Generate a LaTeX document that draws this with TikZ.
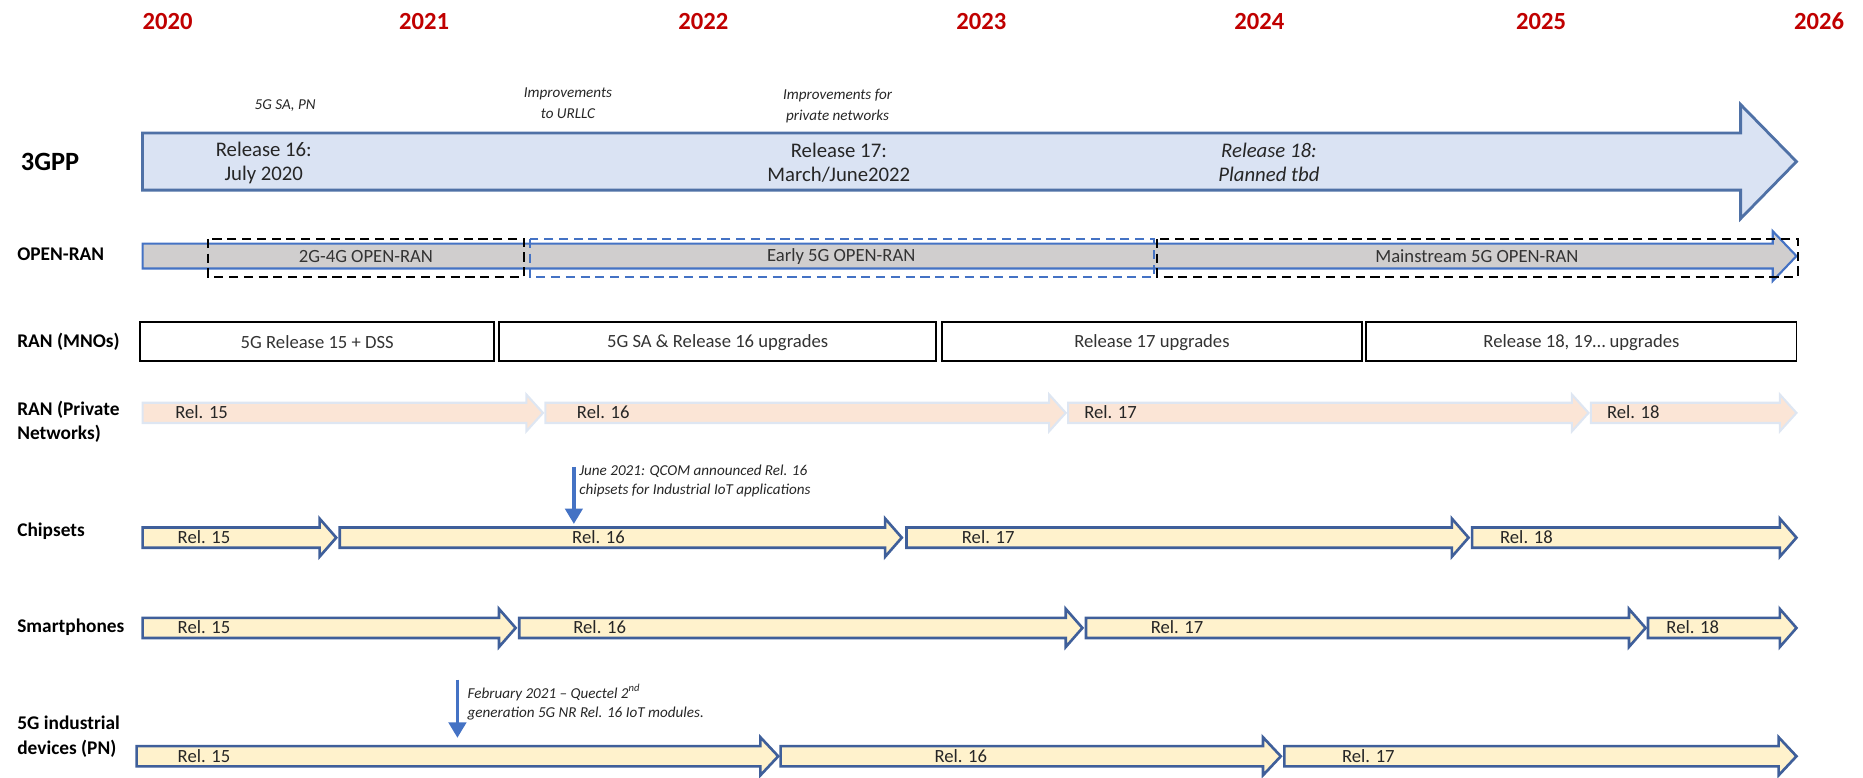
\documentclass[tikz,border=0pt]{standalone}
\usepackage{fontspec}
\setmainfont{Carlito}
\usetikzlibrary{arrows.meta,positioning}
\definecolor{yearred}{HTML}{C00000}
\definecolor{gppfill}{HTML}{DAE3F3}
\definecolor{gppline}{HTML}{4F71A6}
\definecolor{oranfill}{HTML}{D0CECE}
\definecolor{pnfill}{HTML}{FBE5D6}
\definecolor{pnline}{HTML}{DEE6F2}
\definecolor{relfill}{HTML}{FFF2CC}
\definecolor{relline}{HTML}{3F5F9A}
\definecolor{noteblue}{HTML}{4472C4}

% style, start x, tip x, centre y, half shaft, half head, head length
\newcommand{\timearrow}[7]{%
  \filldraw[#1] (#2,#4-#5) -- (#3-#7,#4-#5) -- (#3-#7,#4-#6) -- (#3,#4)
    -- (#3-#7,#4+#6) -- (#3-#7,#4+#5) -- (#2,#4+#5) -- cycle;}

\begin{document}
\begin{tikzpicture}[x=0.3377pt,y=-0.3377pt,
    year/.style={text=yearred,font=\fontsize{7}{8}\selectfont\bfseries},
    rowlabel/.style={anchor=west,align=left,inner sep=0pt,font=\fontsize{5.5}{7}\selectfont\bfseries},
    reltext/.style={align=center,inner sep=0pt,text=black!85,font=\fontsize{5.9}{6.8}\selectfont},
    note/.style={align=center,inner sep=0pt,text=black!85,font=\fontsize{4.3}{6}\selectfont\itshape},
    boxtext/.style={inner sep=0pt,text=black!80,font=\fontsize{5.3}{6}\selectfont},
    rellabel/.style={anchor=west,inner sep=0pt,text=black!85,font=\fontsize{5.3}{6}\selectfont},
    gpp arrow/.style={fill=gppfill,draw=gppline,line width=0.8pt},
    oran arrow/.style={fill=oranfill,draw=noteblue,line width=0.6pt},
    pn arrow/.style={fill=pnfill,draw=pnline,line width=0.6pt},
    rel arrow/.style={fill=relfill,draw=relline,line width=0.75pt},
    dashbox/.style={dash pattern=on 2.6pt off 1.6pt,line width=0.5pt},
    mnobox/.style={draw=black,line width=0.55pt},
    note arrow/.style={noteblue,line width=1.1pt,-{Triangle[width=4.9pt,length=4.4pt]}}]

  \useasboundingbox (0,0) rectangle (1568,654);

  \foreach \yr/\x in {2020/141,2021/357,2022/592,2023/826,2024/1060,2025/1297,2026/1531}
    \node[year] (y\yr) at (\x,18) {\yr};

  \node[rowlabel,font=\fontsize{7.5}{9}\selectfont\bfseries] (gpp) at (17,136) {3GPP};
  \node[rowlabel] (oran)    at (14,214) {OPEN-RAN};
  \node[rowlabel] (mno)     at (14,288) {RAN (MNOs)};
  \node[rowlabel] (pn)      at (14,355) {RAN (Private\\Networks)};
  \node[rowlabel] (chips)   at (14,447) {Chipsets};
  \node[rowlabel] (phones)  at (14,528) {Smartphones};
  \node[rowlabel] (devices) at (14,620) {5G industrial\\devices (PN)};

  \timearrow{gpp arrow}{120}{1512}{136}{24}{48}{47}
  \node[reltext] (rel16) at (222,137) {Release 16:\\July 2020};
  \node[reltext] (rel17) at (706,137) {Release 17:\\March/June2022};
  \node[reltext,font=\fontsize{5.9}{6.8}\selectfont\itshape] (rel18) at (1068,137) {Release 18:\\Planned tbd};
  \node[note] (sapn)  at (240,89) {5G SA, PN};
  \node[note] (urllc) at (478,87) {Improvements\\to URLLC};
  \node[note] (priv)  at (705,89) {Improvements for\\private networks};

  \timearrow{oran arrow}{120}{1512}{215.5}{10.5}{21}{20}
  \draw[dashbox] (175,201) rectangle (441,233);
  \draw[dashbox,noteblue] (446,201) rectangle (971,233);
  \draw[dashbox] (974,201) rectangle (1513,233);
  \node[boxtext] (oran1) at (308,216) {2G-4G OPEN-RAN};
  \node[boxtext] (oran2) at (708,216) {Early 5G OPEN-RAN};
  \node[boxtext] (oran3) at (1243,216) {Mainstream 5G OPEN-RAN};

  \foreach \a/\b/\t [count=\i] in {118/416/5G Release 15 + DSS,
      420/788/5G SA \& Release 16 upgrades, 793/1146/Release 17 upgrades,
      1150/1512/{Release 18, 19… upgrades}} {
    \draw[mnobox] (\a,271) rectangle (\b,304);
    \node[boxtext] (mno\i) at ({(\a+\b)/2},288) {\t};
  }

  \foreach \a/\b/\l/\t in {120/457/147/15, 459/897/485/16, 899/1337/912/17, 1339/1512/1352/18} {
    \timearrow{pn arrow}{\a}{\b}{347.5}{8.5}{15.5}{14}
    \node[rellabel] (pn\t) at (\l,347) {Rel. \t};
  }

  \foreach \a/\b/\l/\t in {120/283/149/15, 286/759/481/16, 763/1236/809/17, 1239/1512/1262/18} {
    \timearrow{rel arrow}{\a}{\b}{452.5}{8.5}{16}{14}
    \node[rellabel] (chip\t) at (\l,452) {Rel. \t};
  }

  \foreach \a/\b/\l/\t in {120/434/149/15, 437/911/482/16, 914/1385/968/17, 1387/1512/1402/18} {
    \timearrow{rel arrow}{\a}{\b}{528.5}{8.5}{16}{14}
    \node[rellabel] (phone\t) at (\l,528) {Rel. \t};
  }

  \foreach \a/\b/\l/\t in {115/655/149/15, 657/1078/786/16, 1081/1512/1129/17} {
    \timearrow{rel arrow}{\a}{\b}{636.5}{8.5}{16}{15}
    \node[rellabel] (dev\t) at (\l,636) {Rel. \t};
  }

  \node[note,align=left,anchor=west,font=\fontsize{4.3}{5.4}\selectfont\itshape] (qcom) at (487,405)
    {June 2021: QCOM announced Rel. 16\\chipsets for Industrial IoT applications};
  \coordinate (qcomtop) at (483,393);
  \coordinate (qcomtip) at (483,441);
  \draw[note arrow] (qcomtop) -- (qcomtip);

  \node[note,align=left,anchor=west,font=\fontsize{4.3}{5.4}\selectfont\itshape] (quectel) at (393,591)
    {February 2021 – Quectel 2\textsuperscript{nd}\\generation 5G NR Rel. 16 IoT modules.};
  \coordinate (quectop) at (385,572);
  \coordinate (quectip) at (385,621);
  \draw[note arrow] (quectop) -- (quectip);
\end{tikzpicture}
\end{document}
